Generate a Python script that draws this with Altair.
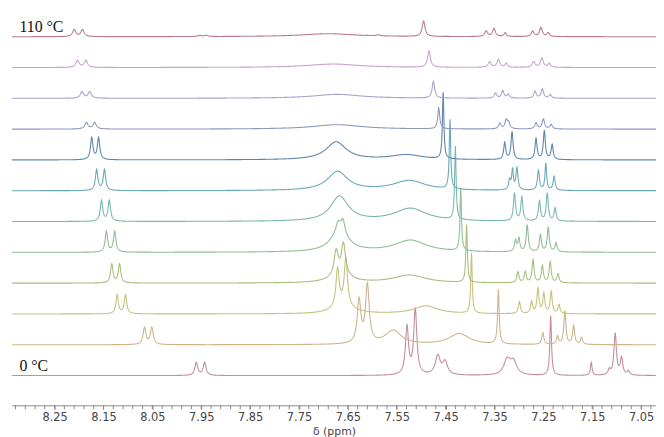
import altair as alt
import numpy as np
import pandas as pd

# Temperatures, bottom (0 °C) to top (110 °C)
temps = ["0 °C", "10 °C", "20 °C", "30 °C", "40 °C", "50 °C",
         "60 °C", "70 °C", "80 °C", "90 °C", "100 °C", "110 °C"]

colors = ["#c48f98", "#cfb48c", "#c2c47e", "#a6c07c", "#8fbf95", "#7ab8ad",
          "#6aaab4", "#5f86aa", "#8e98bf", "#a9a3cc", "#c7a3cc", "#b87c8c"]

# Axis tick positions (ppm)
major_ticks = [8.25, 8.15, 8.05, 7.95, 7.85, 7.75, 7.65, 7.55, 7.45, 7.35, 7.25, 7.15, 7.05]
minor_ticks = [round(7.03 + 0.02 * i, 2) for i in range(66)]

# Peak lists: (shift ppm, intensity, half width ppm)
p_0 = [(7.960, 13, 0.0035), (7.943, 13, 0.0035),
       (7.529, 48, 0.0038), (7.512, 66, 0.0038),
       (7.466, 19, 0.006), (7.451, 13, 0.006),
       (7.324, 15, 0.008), (7.311, 13, 0.008),
       (7.235, 60, 0.002), (7.152, 13, 0.002),
       (7.115, 5, 0.003), (7.103, 42, 0.003), (7.090, 17, 0.003), (7.076, 4, 0.003)]
p_10 = [(8.066, 17, 0.0035), (8.051, 17, 0.0035),
        (7.627, 43, 0.0045), (7.610, 58, 0.0045),
        (7.557, 14, 0.02), (7.422, 11, 0.025),
        (7.342, 55, 0.002),
        (7.251, 12, 0.0025), (7.221, 8, 0.0025), (7.206, 34, 0.0025),
        (7.188, 19, 0.0025), (7.172, 7, 0.0025)]
p_20 = [(8.122, 19, 0.003), (8.105, 19, 0.003),
        (7.671, 38, 0.004), (7.654, 48, 0.004), (7.660, 8, 0.025),
        (7.490, 8, 0.03),
        (7.397, 61, 0.0018),
        (7.299, 12, 0.0025), (7.274, 12, 0.0025), (7.261, 25, 0.0025),
        (7.249, 20, 0.0025), (7.234, 22, 0.0025), (7.218, 9, 0.0025)]
p_30 = [(8.133, 19, 0.003), (8.117, 19, 0.003),
        (7.674, 24, 0.005), (7.659, 31, 0.005), (7.665, 8, 0.025),
        (7.524, 8, 0.04),
        (7.407, 58, 0.0018),
        (7.302, 11, 0.0025), (7.287, 11, 0.0025), (7.271, 23, 0.0025),
        (7.252, 17, 0.0025), (7.236, 21, 0.0025), (7.220, 9, 0.0025)]
p_40 = [(8.144, 21, 0.003), (8.127, 21, 0.003),
        (7.667, 20, 0.022), (7.670, 9, 0.005), (7.660, 13, 0.005),
        (7.522, 12, 0.04),
        (7.419, 63, 0.0018),
        (7.307, 11, 0.0025), (7.300, 13, 0.0025), (7.283, 27, 0.0025),
        (7.256, 17, 0.0025), (7.240, 25, 0.0025), (7.224, 9, 0.0025)]
p_50 = [(8.154, 21, 0.003), (8.138, 21, 0.003),
        (7.667, 25, 0.022), (7.522, 13, 0.04),
        (7.430, 74, 0.0018),
        (7.309, 28, 0.0025), (7.294, 24, 0.0025), (7.258, 20, 0.0025),
        (7.242, 28, 0.0025), (7.226, 13, 0.0025)]
p_60 = [(8.164, 21, 0.003), (8.148, 21, 0.003),
        (7.671, 19, 0.025), (7.524, 10, 0.04),
        (7.441, 70, 0.0018),
        (7.319, 10, 0.0025), (7.313, 20, 0.002), (7.304, 22, 0.0025),
        (7.260, 20, 0.0025), (7.245, 27, 0.002), (7.228, 14, 0.0025)]
p_70 = [(8.174, 22, 0.003), (8.160, 22, 0.003),
        (7.674, 18, 0.025), (7.530, 5, 0.04),
        (7.455, 67, 0.0018),
        (7.329, 17, 0.0025), (7.314, 28, 0.0025), (7.265, 21, 0.0025),
        (7.248, 29, 0.0025), (7.232, 15, 0.0025)]
p_80 = [(8.185, 6.5, 0.004), (8.168, 6.5, 0.004),
        (7.672, 4.5, 0.06),
        (7.464, 21, 0.0025),
        (7.339, 5.5, 0.003), (7.326, 8.5, 0.003), (7.321, 6, 0.003),
        (7.265, 6, 0.003), (7.250, 10, 0.003), (7.234, 4.5, 0.003)]
p_90 = [(8.194, 6.5, 0.004), (8.178, 6.5, 0.004),
        (7.672, 4, 0.06),
        (7.475, 17, 0.003),
        (7.348, 5, 0.003), (7.333, 7.5, 0.003), (7.322, 3.7, 0.003),
        (7.267, 7, 0.003), (7.252, 9.3, 0.003), (7.236, 3.5, 0.003)]
p_100 = [(8.203, 7, 0.004), (8.186, 7, 0.004),
         (7.680, 3.5, 0.065),
         (7.484, 16.5, 0.0035),
         (7.360, 5.5, 0.0035), (7.342, 8, 0.0035), (7.326, 4, 0.003),
         (7.270, 5.7, 0.0035), (7.253, 9.5, 0.0035), (7.238, 3.8, 0.003)]
p_110 = [(8.210, 7, 0.004), (8.193, 7, 0.004),
         (7.953, 1.2, 0.004), (7.940, 1.2, 0.004),
         (7.690, 3, 0.07), (7.588, 1, 0.004),
         (7.495, 15.5, 0.0035),
         (7.367, 5.5, 0.0035), (7.351, 8, 0.0035), (7.328, 3.8, 0.003),
         (7.272, 5.5, 0.0035), (7.255, 9, 0.0035), (7.240, 3.8, 0.003)]

peak_lists = [p_0, p_10, p_20, p_30, p_40, p_50, p_60, p_70, p_80, p_90, p_100, p_110]

x_lo, x_hi = 7.0195, 8.3372
base0, step = 30.0, 31.09  # layout: vertical stacking of the spectra

grid = np.arange(x_lo, x_hi + 0.0005, 0.0005)
frames = []
for k, (name, peaks) in enumerate(zip(temps, peak_lists)):
    y = np.zeros_like(grid)
    for pos, h, w in peaks:
        y += h / (1.0 + ((grid - pos) / w) ** 2)
    frames.append(pd.DataFrame({"ppm": np.round(grid, 4),
                                "y": np.round(base0 + k * step + y, 2),
                                "trace": name}))
df = pd.concat(frames, ignore_index=True)

lab = pd.DataFrame({"label": [temps[0], temps[-1]],
                    "ppm": [8.322, 8.322],
                    "y": [base0 + 10, base0 + 11 * step + 10]})

x_axis = alt.Axis(values=major_ticks, format=".2f",
                  title="δ (ppm)", grid=False, tickSize=4, domainColor="#8a8a8a",
                  tickColor="#8a8a8a", labelColor="#444444", labelFont="DejaVu Sans",
                  labelFontSize=11.5, titleFont="DejaVu Sans", titleFontSize=11,
                  titleFontWeight="normal", titleColor="#444444", labelPadding=2,
                  titlePadding=3, labelFlush=False, labelOverlap=False)

xs = alt.Scale(domain=[x_lo, x_hi], reverse=True, nice=False, zero=False)
ys = alt.Scale(domain=[0, 397], nice=False, zero=False)

lines = alt.Chart(df).mark_line(strokeWidth=1.1, clip=True).encode(
    x=alt.X("ppm:Q", scale=xs, axis=x_axis),
    y=alt.Y("y:Q", scale=ys, axis=None),
    color=alt.Color("trace:N", scale=alt.Scale(domain=temps, range=colors), legend=None),
    detail="trace:N",
)

minor = alt.Chart(pd.DataFrame({"ppm": minor_ticks})).mark_rule(
    color="#8a8a8a", strokeWidth=1).encode(
    x=alt.X("ppm:Q", scale=xs),
    y=alt.value(397),
    y2=alt.value(401),
)

texts = alt.Chart(lab).mark_text(align="left", baseline="middle", font="Liberation Serif",
                                 fontSize=16, color="#111111").encode(
    x=alt.X("ppm:Q", scale=xs),
    y=alt.Y("y:Q", scale=ys),
    text="label:N",
)

chart = alt.layer(lines, minor, texts).properties(
    width=650, height=397,
    autosize=alt.AutoSizeParams(type="none"),
    padding={"left": 4, "top": 2, "right": 0, "bottom": 31},
).configure_view(stroke=None)

chart.save("out.html", embed_options={"renderer": "svg", "actions": False})
